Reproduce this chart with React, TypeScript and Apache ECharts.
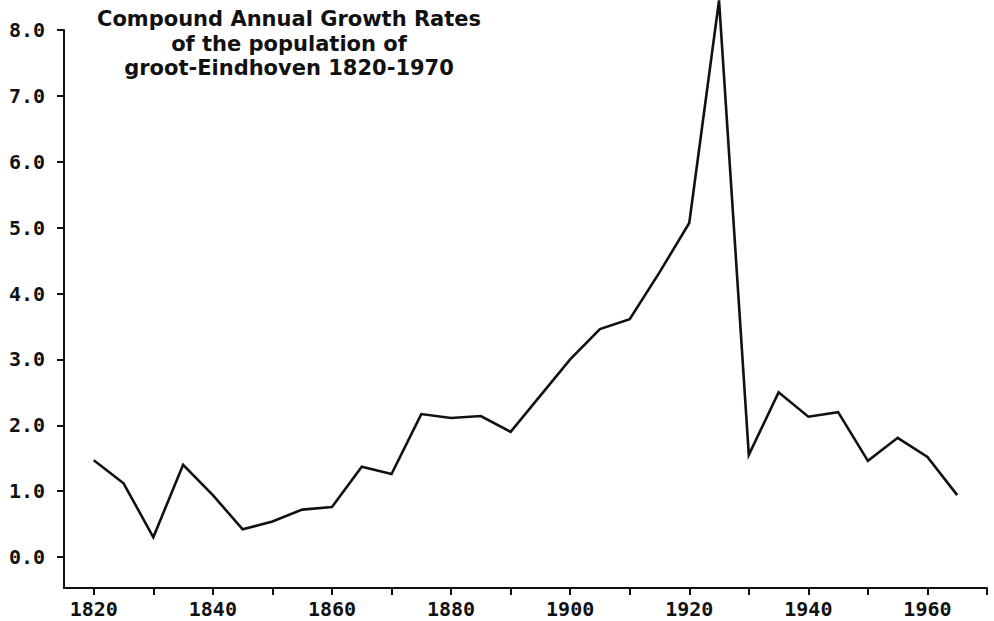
import React, { useEffect, useRef } from "react";
import * as echarts from "echarts";

// Five-year observation points, 1820–1965
const years = [
  1820, 1825, 1830, 1835, 1840, 1845, 1850, 1855, 1860, 1865, 1870, 1875, 1880,
  1885, 1890, 1895, 1900, 1905, 1910, 1915, 1920, 1925, 1930, 1935, 1940, 1945,
  1950, 1955, 1960, 1965,
];
// Compound annual growth rate (%)
const growthRates = [
  1.47, 1.12, 0.3, 1.4, 0.94, 0.42, 0.54, 0.72, 0.76, 1.37, 1.26, 2.17, 2.11,
  2.14, 1.9, 2.45, 3.0, 3.46, 3.61, 4.32, 5.07, 8.45, 1.55, 2.5, 2.13, 2.2,
  1.46, 1.81, 1.52, 0.94,
];
const yTickValues = [0, 1, 2, 3, 4, 5, 6, 7, 8];
const xTickValues = [
  1820, 1830, 1840, 1850, 1860, 1870, 1880, 1890, 1900, 1910, 1920, 1930, 1940,
  1950, 1960, 1970,
];
const xLabelValues = [1820, 1840, 1860, 1880, 1900, 1920, 1940, 1960];
const titleLines = [
  "Compound Annual Growth Rates",
  "of the population of",
  "groot-Eindhoven 1820-1970",
];

const AXIS_FONT = "'DejaVu Sans Mono', 'Liberation Mono', monospace";

export default function App() {
  const ref = useRef<HTMLDivElement>(null);

  useEffect(() => {
    if (!ref.current) return;
    const chart = echarts.init(ref.current, undefined, { renderer: "svg" });
    const data = years.map((y, i) => [y, growthRates[i]]);

    chart.setOption({
      animation: false,
      backgroundColor: "#ffffff",
      title: {
        text: titleLines.join("\n"),
        left: 284,
        top: 2,
        textAlign: "center",
        textStyle: {
          fontFamily: "'DejaVu Sans', sans-serif",
          fontWeight: "bold",
          fontSize: 21,
          lineHeight: 24.5,
          color: "#111",
        },
      },
      grid: { left: 64, right: 7, top: 30, bottom: 33 },
      xAxis: {
        type: "value",
        min: 1815,
        max: 1970,
        axisLine: {
          show: true,
          onZero: false,
          lineStyle: { color: "#111", width: 2 },
        },
        axisTick: {
          show: true,
          length: 7,
          customValues: xTickValues,
          lineStyle: { color: "#111", width: 2 },
        },
        axisLabel: {
          customValues: xLabelValues,
          margin: 11,
          fontFamily: AXIS_FONT,
          fontWeight: "bold",
          fontSize: 20,
          color: "#111",
          formatter: (v: number) => String(v),
        },
        splitLine: { show: false },
      },
      yAxis: {
        type: "value",
        min: -0.47,
        max: 8,
        axisLine: {
          show: true,
          onZero: false,
          lineStyle: { color: "#111", width: 2 },
        },
        axisTick: {
          show: true,
          length: 7,
          customValues: yTickValues,
          lineStyle: { color: "#111", width: 2 },
        },
        axisLabel: {
          customValues: yTickValues,
          margin: 19,
          fontFamily: AXIS_FONT,
          fontWeight: "bold",
          fontSize: 20,
          color: "#111",
          formatter: (v: number) => v.toFixed(1),
        },
        splitLine: { show: false },
      },
      series: [
        {
          type: "line",
          data,
          clip: false,
          showSymbol: false,
          symbol: "none",
          lineStyle: { color: "#111", width: 2.6, join: "miter" },
        },
      ],
    });

    return () => chart.dispose();
  }, []);

  return (
    <div
      ref={ref}
      style={{ position: "fixed", left: 0, top: 0, width: 994, height: 621 }}
    />
  );
}
